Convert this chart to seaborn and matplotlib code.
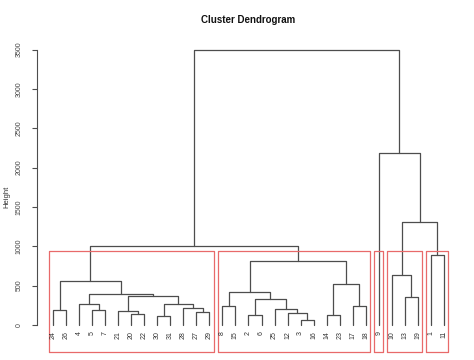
import numpy as np
import pandas as pd
import matplotlib
matplotlib.use('Agg')
import matplotlib.pyplot as plt
import seaborn as sns

# hclust-style merges: negative = observation number, positive = earlier merge (1-based)
merge_left = [-3, -30, -2, -14, -20, -12, -27, -21, -24, -5,
              -25, -28, -8, -17, -4, 2, 3, -13, 8, 15,
              13, 4, 9, -10, 21, -1, 23, 24, -9, 27]
merge_right = [-16, -31, -6, -23, -22, 1, -29, 5, -26, -7,
               6, 7, -15, -18, 10, 12, 11, -19, 16, 19,
               17, 14, 20, 18, 22, -11, 25, 26, 28, 29]
merge_height = [67, 115, 130, 130, 140, 145, 165, 180, 190, 190,
                207, 215, 240, 240, 265, 265, 327, 352, 370, 390,
                415, 520, 564, 636, 814, 890, 1000, 1314, 2192, 3500]
n_clusters = 5
y_ticks = [0, 500, 1000, 1500, 2000, 2500, 3000, 3500]

# leaf order from the tree
def leaves(i):
    if i < 0:
        return [-i]
    return leaves(merge_left[i - 1]) + leaves(merge_right[i - 1])

order = leaves(len(merge_height))
pos = {lab: k + 1 for k, lab in enumerate(order)}

# node x-centres
center = {}
def node_x(i):
    if i < 0:
        return pos[-i]
    if i not in center:
        center[i] = (node_x(merge_left[i - 1]) + node_x(merge_right[i - 1])) / 2
    return center[i]

def node_h(i):
    return 0 if i < 0 else merge_height[i - 1]

rows = []
for m in range(1, len(merge_height) + 1):
    a, b, h = merge_left[m - 1], merge_right[m - 1], merge_height[m - 1]
    pts = [(node_x(a), node_h(a)), (node_x(a), h), (node_x(b), h), (node_x(b), node_h(b))]
    for x, y in pts:
        rows.append({'x': x, 'y': y, 'seg': m})
segs = pd.DataFrame(rows)

sns.set_style('white')
plt.rcParams['font.family'] = ['Liberation Sans', 'DejaVu Sans']

fig = plt.figure(figsize=(4.74, 3.6), dpi=100)
ax = fig.add_axes([0.0789, 0.0222, 0.8907, 0.8722])

sns.lineplot(data=segs, x='x', y='y', units='seg', estimator=None, sort=False,
             color='#4d4d4d', linewidth=0.9, ax=ax, legend=False)

ax.set_xlim(-0.2, 32.2)
ax.set_ylim(-345, 3648)

# leaf labels
for lab in order:
    ax.annotate(str(lab), (pos[lab], 0), xytext=(0, -4.5), textcoords='offset points',
                rotation=90, ha='center', va='top', fontsize=5, color='#333333')

# rect.hclust k=5
cut = (merge_height[-n_clusters + 1] + merge_height[-n_clusters]) / 2
def clusters(i):
    if i < 0 or merge_height[i - 1] < cut:
        return [leaves(i)]
    return clusters(merge_left[i - 1]) + clusters(merge_right[i - 1])

bottom = ax.get_ylim()[0]
for grp in clusters(len(merge_height)):
    x0 = min(pos[g] for g in grp) - 0.34
    x1 = max(pos[g] for g in grp) + 0.33
    ax.plot([x0, x0, x1, x1, x0], [bottom, cut, cut, bottom, bottom],
            color='#e86a6a', linewidth=0.9, clip_on=False)

for side in ['top', 'right', 'bottom']:
    ax.spines[side].set_visible(False)
ax.spines['left'].set_bounds(0, 3500)
ax.spines['left'].set_color('#4d4d4d')
ax.spines['left'].set_linewidth(0.8)
ax.set_xticks([])
ax.set_yticks(y_ticks)
ax.set_yticklabels([str(t) for t in y_ticks], rotation=90, va='center', fontsize=5, color='#444444')
ax.tick_params(axis='y', length=3.6, width=0.8, color='#4d4d4d', pad=7, left=True)
ax.set_xlabel('')
ax.set_ylabel('')

fig.text(0.524, 0.944, 'Cluster Dendrogram', ha='center', va='center',
         fontsize=7, fontweight='bold', color='#111111')
fig.text(7 / 474, 1 - 197 / 360, 'Height', rotation=90, ha='center', va='center',
         fontsize=5.5, color='#333333')

fig.savefig('out.png', dpi=100)
